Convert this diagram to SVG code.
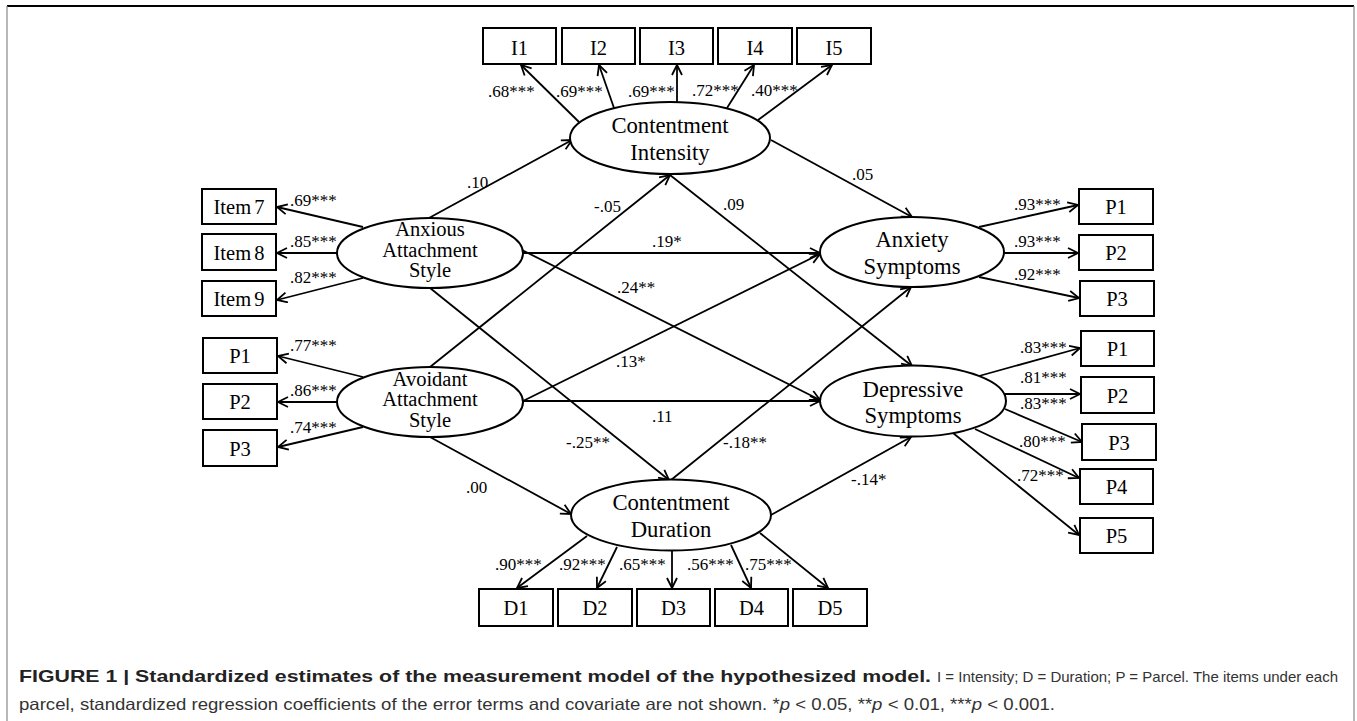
<svg xmlns="http://www.w3.org/2000/svg" width="1357" height="721" viewBox="0 0 1357 721">
<style>
.box{fill:#fff;stroke:#000;stroke-width:2}
.ell{fill:#fff;stroke:#000;stroke-width:2}
.bt{font-family:"Liberation Serif","Times New Roman",serif;font-size:20.5px;text-anchor:middle;fill:#000}
.et{font-family:"Liberation Serif","Times New Roman",serif;font-size:22.7px;text-anchor:middle;fill:#000}
.et3{font-family:"Liberation Serif","Times New Roman",serif;font-size:20.5px;text-anchor:middle;fill:#000}
.lb{font-family:"Liberation Serif","Times New Roman",serif;font-size:17px;fill:#000}
.cn line{stroke:#000;stroke-width:1.8;marker-end:url(#ah)}
.cap{font-family:"Liberation Sans",Arial,sans-serif;font-size:16.5px}
</style>
<defs>
<marker id="ah" markerUnits="userSpaceOnUse" markerWidth="14" markerHeight="14" refX="11" refY="6" orient="auto">
<path d="M1,1 L11,6 L1,11" fill="none" stroke="#000" stroke-width="1.8"/>
</marker>
</defs>
<rect width="1357" height="721" fill="#fff"/>
<g id="frame">
<line x1="7" y1="6" x2="1354" y2="6" stroke="#000" stroke-width="2"/>
<line x1="7" y1="6" x2="7" y2="721" stroke="#888" stroke-width="1.2"/>
<line x1="1354" y1="6" x2="1354" y2="721" stroke="#888" stroke-width="1.2"/>
</g>
<g id="connectors" class="cn">
<line x1="429" y1="218" x2="572" y2="140"/>
<line x1="430" y1="367" x2="670" y2="175"/>
<line x1="670" y1="175" x2="912" y2="366"/>
<line x1="771" y1="140" x2="912" y2="217"/>
<line x1="523" y1="253" x2="820" y2="253"/>
<line x1="522" y1="250" x2="820" y2="400"/>
<line x1="430" y1="288" x2="669" y2="480"/>
<line x1="523" y1="401" x2="820" y2="254"/>
<line x1="523" y1="401" x2="820" y2="401"/>
<line x1="430" y1="437" x2="571" y2="514"/>
<line x1="671" y1="480" x2="911" y2="287"/>
<line x1="771" y1="515" x2="911" y2="437"/>
<line x1="579" y1="122" x2="521" y2="65"/>
<line x1="614" y1="108" x2="599" y2="65"/>
<line x1="677" y1="102" x2="677" y2="65"/>
<line x1="727" y1="108" x2="754" y2="65"/>
<line x1="758" y1="120" x2="832" y2="65"/>
<line x1="363" y1="227" x2="277" y2="207"/>
<line x1="337" y1="253" x2="277" y2="253"/>
<line x1="363" y1="278" x2="277" y2="300"/>
<line x1="363" y1="377" x2="278" y2="356"/>
<line x1="337" y1="402" x2="278" y2="402"/>
<line x1="363" y1="427" x2="278" y2="447"/>
<line x1="979" y1="227" x2="1078" y2="205"/>
<line x1="1003" y1="253" x2="1078" y2="253"/>
<line x1="979" y1="277" x2="1079" y2="298"/>
<line x1="979" y1="376" x2="1080" y2="348"/>
<line x1="1005" y1="394" x2="1080" y2="394"/>
<line x1="1005" y1="409" x2="1082" y2="442"/>
<line x1="975" y1="429" x2="1079" y2="478"/>
<line x1="953" y1="433" x2="1079" y2="535"/>
<line x1="587" y1="536" x2="517" y2="588"/>
<line x1="617" y1="547" x2="597" y2="588"/>
<line x1="672" y1="551" x2="672" y2="588"/>
<line x1="731" y1="545" x2="751" y2="588"/>
<line x1="760" y1="533" x2="828" y2="588"/>
</g>
<g id="labels" class="lb">
<text x="467" y="188">.10</text>
<text x="594" y="212">-.05</text>
<text x="723" y="210">.09</text>
<text x="852" y="180">.05</text>
<text x="652" y="247">.19*</text>
<text x="617" y="293">.24**</text>
<text x="566" y="448">-.25**</text>
<text x="616" y="367">.13*</text>
<text x="652" y="422">.11</text>
<text x="466" y="493">.00</text>
<text x="723" y="448">-.18**</text>
<text x="851" y="485">-.14*</text>
<text x="488" y="97">.68***</text>
<text x="556" y="97">.69***</text>
<text x="628" y="97">.69***</text>
<text x="692" y="96">.72***</text>
<text x="751" y="96">.40***</text>
<text x="290" y="206">.69***</text>
<text x="290" y="247">.85***</text>
<text x="290" y="283">.82***</text>
<text x="290" y="351">.77***</text>
<text x="290" y="396">.86***</text>
<text x="290" y="433">.74***</text>
<text x="1014" y="210">.93***</text>
<text x="1014" y="247">.93***</text>
<text x="1014" y="280">.92***</text>
<text x="1020" y="353">.83***</text>
<text x="1020" y="383">.81***</text>
<text x="1020" y="409">.83***</text>
<text x="1019" y="447">.80***</text>
<text x="1017" y="481">.72***</text>
<text x="495" y="570">.90***</text>
<text x="559" y="570">.92***</text>
<text x="619" y="570">.65***</text>
<text x="687" y="570">.56***</text>
<text x="745" y="570">.75***</text>
</g>
<g id="contentment-intensity"><ellipse class="ell" cx="670" cy="138" rx="100" ry="36"/><text class="et" x="670" y="133">Contentment</text><text class="et" x="670" y="160">Intensity</text></g>
<g id="anxiety-symptoms"><ellipse class="ell" cx="912" cy="252" rx="92" ry="35"/><text class="et" x="912" y="247">Anxiety</text><text class="et" x="912" y="274">Symptoms</text></g>
<g id="depressive-symptoms"><ellipse class="ell" cx="913" cy="401" rx="93" ry="35.5"/><text class="et" x="913" y="397">Depressive</text><text class="et" x="913" y="423">Symptoms</text></g>
<g id="anxious-attachment"><ellipse class="ell" cx="430" cy="253" rx="93" ry="35"/><text class="et3" x="430" y="236">Anxious</text><text class="et3" x="430" y="256.5">Attachment</text><text class="et3" x="430" y="277">Style</text></g>
<g id="avoidant-attachment"><ellipse class="ell" cx="430" cy="402" rx="93" ry="35"/><text class="et3" x="430" y="385.5">Avoidant</text><text class="et3" x="430" y="406">Attachment</text><text class="et3" x="430" y="426.5">Style</text></g>
<g id="contentment-duration"><ellipse class="ell" cx="671" cy="515" rx="100" ry="35.5"/><text class="et" x="671" y="510">Contentment</text><text class="et" x="671" y="537">Duration</text></g>
<g id="I1"><rect class="box" x="483" y="28" width="73" height="36"/><text class="bt" x="519.5" y="55">I1</text></g>
<g id="I2"><rect class="box" x="562" y="28" width="73" height="36"/><text class="bt" x="598.5" y="55">I2</text></g>
<g id="I3"><rect class="box" x="640" y="28" width="73" height="36"/><text class="bt" x="676.5" y="55">I3</text></g>
<g id="I4"><rect class="box" x="718" y="28" width="74" height="36"/><text class="bt" x="755" y="55">I4</text></g>
<g id="I5"><rect class="box" x="797" y="28" width="74" height="36"/><text class="bt" x="834" y="55">I5</text></g>
<g id="item7"><rect class="box" x="202" y="189" width="74" height="35"/><text class="bt" x="239" y="214" word-spacing="-2">Item 7</text></g>
<g id="item8"><rect class="box" x="202" y="234" width="74" height="36"/><text class="bt" x="239" y="260" word-spacing="-2">Item 8</text></g>
<g id="item9"><rect class="box" x="202" y="281" width="74" height="35"/><text class="bt" x="239" y="306" word-spacing="-2">Item 9</text></g>
<g id="av-P1"><rect class="box" x="203" y="338" width="74" height="35"/><text class="bt" x="240" y="363">P1</text></g>
<g id="av-P2"><rect class="box" x="203" y="384" width="74" height="35"/><text class="bt" x="240" y="409">P2</text></g>
<g id="av-P3"><rect class="box" x="203" y="430" width="74" height="36"/><text class="bt" x="240" y="456">P3</text></g>
<g id="ax-P1"><rect class="box" x="1079" y="189" width="74" height="35"/><text class="bt" x="1116" y="214">P1</text></g>
<g id="ax-P2"><rect class="box" x="1079" y="235" width="74" height="35"/><text class="bt" x="1116" y="260">P2</text></g>
<g id="ax-P3"><rect class="box" x="1080" y="281" width="74" height="35"/><text class="bt" x="1117" y="306">P3</text></g>
<g id="dp-P1"><rect class="box" x="1081" y="331" width="73" height="35"/><text class="bt" x="1117.5" y="356">P1</text></g>
<g id="dp-P2"><rect class="box" x="1081" y="377" width="73" height="36"/><text class="bt" x="1117.5" y="403">P2</text></g>
<g id="dp-P3"><rect class="box" x="1082" y="424" width="74" height="36"/><text class="bt" x="1119" y="450">P3</text></g>
<g id="dp-P4"><rect class="box" x="1080" y="469" width="73" height="35"/><text class="bt" x="1116.5" y="494">P4</text></g>
<g id="dp-P5"><rect class="box" x="1080" y="518" width="73" height="35"/><text class="bt" x="1116.5" y="543">P5</text></g>
<g id="D1"><rect class="box" x="479" y="589" width="74" height="37"/><text class="bt" x="516" y="615">D1</text></g>
<g id="D2"><rect class="box" x="558" y="589" width="74" height="37"/><text class="bt" x="595" y="615">D2</text></g>
<g id="D3"><rect class="box" x="637" y="589" width="73" height="37"/><text class="bt" x="673.5" y="615">D3</text></g>
<g id="D4"><rect class="box" x="715" y="589" width="73" height="37"/><text class="bt" x="751.5" y="615">D4</text></g>
<g id="D5"><rect class="box" x="793" y="589" width="74" height="37"/><text class="bt" x="830" y="615">D5</text></g>
<g id="caption" class="cap">
<text x="19" y="682" font-weight="bold" fill="#222" textLength="912" lengthAdjust="spacingAndGlyphs">FIGURE 1 | Standardized estimates of the measurement model of the hypothesized model.</text>
<text x="937" y="682" fill="#333" font-size="14.5" textLength="401" lengthAdjust="spacingAndGlyphs">I = Intensity; D = Duration; P = Parcel. The items under each</text>
<text x="19" y="710" fill="#333" textLength="1036" lengthAdjust="spacingAndGlyphs">parcel, standardized regression coefficients of the error terms and covariate are not shown. *<tspan font-style="italic">p</tspan> &lt; 0.05, **<tspan font-style="italic">p</tspan> &lt; 0.01, ***<tspan font-style="italic">p</tspan> &lt; 0.001.</text>
</g>
</svg>
